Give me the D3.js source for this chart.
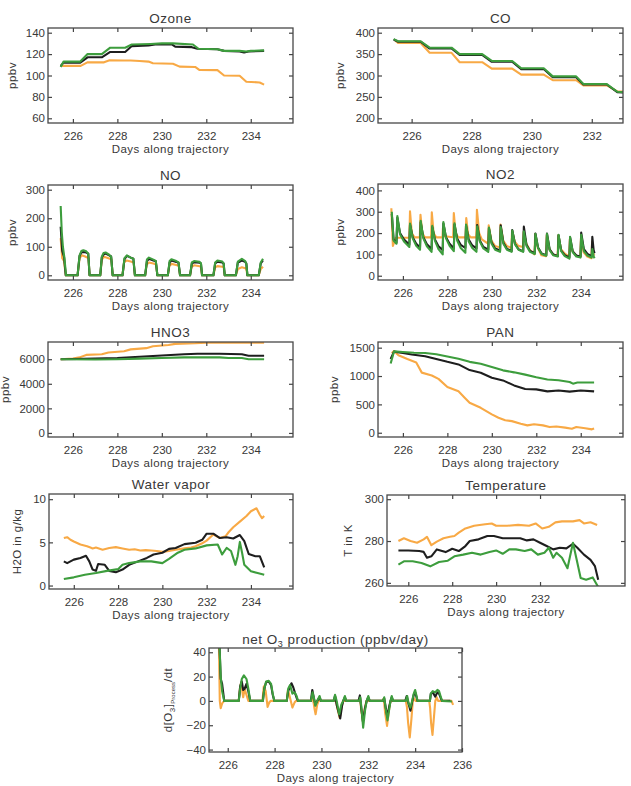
<!DOCTYPE html>
<html>
<head>
<meta charset="utf-8">
<script src="https://cdn.jsdelivr.net/npm/d3@7"></script>
<style>
  body { margin: 0; background: #fff; }
  svg { display: block; }
  text { font-family: "Liberation Sans", Arial, sans-serif; fill: #383838; }
  .tick text { font-size: 11.5px; }
  .title { font-size: 13.5px; letter-spacing: 0.5px; }
  .axlabel { font-size: 11.5px; letter-spacing: 0.45px; }
</style>
</head>
<body>
<svg id="chart" width="631" height="786"></svg>
<script>
// ---- data: [day, value] ----
const ozoneOrange = [[225.45,109],[226.35,109],[226.65,112.3],[227.4,112.3],[227.65,114.2],[228.3,114],[228.6,114],[229.0,113.5],[229.4,113],[229.6,111.4],[230.5,111],[230.8,108.3],[231.5,108],[231.7,105.1],[232.5,105],[232.8,100],[233.5,99.8],[233.8,94.2],[234.4,93.5],[234.6,91.5]];
const ozoneBlack = [[225.45,109],[225.58,112],[226.33,112],[226.66,117],[227.3,117],[227.68,122],[228.35,122],[228.65,127.5],[229.4,128],[229.7,129],[230.45,129],[230.6,127],[231.35,126.5],[231.6,125],[232.5,124.5],[232.8,123],[233.5,122.5],[233.7,121.5],[233.9,122.5],[234.6,123]];
const ozoneGreen = [[225.45,108],[225.58,113],[226.33,113],[226.66,120],[227.3,120],[227.68,126],[228.35,126],[228.65,129],[229.5,129.5],[230.0,130],[230.5,130],[231.4,129],[231.65,125],[232.5,124.5],[232.8,123],[233.5,123],[233.8,122.5],[234.0,123],[234.6,123.5]];

const coOrange = [[225.45,382],[225.55,376],[226.3,376],[226.6,353],[227.33,353],[227.6,331],[228.35,331],[228.67,316],[229.35,316],[229.65,302],[230.4,302],[230.7,289],[231.48,289],[231.72,277],[232.5,277],[232.85,263],[233.1,262]];
const coBlack = [[225.4,384],[225.55,379],[226.3,379],[226.6,363],[227.33,363],[227.6,348],[228.35,348],[228.67,332],[229.35,332],[229.65,315],[230.4,315],[230.7,296],[231.48,296],[231.72,279],[232.5,279],[232.85,261],[233.1,260]];
const coGreen = [[225.4,385],[225.55,380],[226.3,380],[226.6,365],[227.33,365],[227.6,350],[228.35,350],[228.67,334],[229.35,334],[229.65,317],[230.4,317],[230.7,298],[231.48,298],[231.72,280],[232.5,280],[232.85,262],[233.1,261]];

const noOrange = [[225.45,130],[225.52,60],[225.6,50],[225.68,0],[226.21,0],[226.3,60],[226.4,70],[226.55,66],[226.7,60],[226.75,0],[227.23,0],[227.3,55],[227.4,65],[227.6,60],[227.73,56],[227.79,0],[228.23,0],[228.3,45],[228.42,52],[228.6,48],[228.73,45],[228.79,0],[229.25,0],[229.32,38],[229.42,45],[229.62,41],[229.74,38],[229.8,0],[230.27,0],[230.34,33],[230.44,40],[230.65,36],[230.76,33],[230.82,0],[231.27,0],[231.34,30],[231.45,35],[231.7,32],[231.76,30],[231.81,0],[232.32,0],[232.4,28],[232.5,32],[232.72,30],[232.78,28],[232.83,0],[233.33,0],[233.42,22],[233.6,28],[233.75,25],[233.8,22],[233.85,0],[234.36,0],[234.45,22],[234.55,30]];
const noBlack = [[225.45,170],[225.52,85],[225.6,65],[225.68,0],[226.21,0],[226.3,68],[226.38,80],[226.47,82],[226.6,80],[226.69,76],[226.75,0],[227.23,0],[227.3,62],[227.38,73],[227.47,76],[227.63,70],[227.72,66],[227.79,0],[228.23,0],[228.32,57],[228.43,68],[228.6,62],[228.72,58],[228.79,0],[229.25,0],[229.33,50],[229.42,58],[229.62,52],[229.73,49],[229.8,0],[230.27,0],[230.35,45],[230.43,52],[230.65,47],[230.75,44],[230.82,0],[231.27,0],[231.35,41],[231.45,46],[231.7,44],[231.76,41],[231.81,0],[232.32,0],[232.4,42],[232.5,48],[232.72,45],[232.78,41],[232.83,0],[233.33,0],[233.42,45],[233.6,52],[233.75,47],[233.8,42],[233.85,0],[234.36,0],[234.45,42],[234.55,52]];
const noGreen = [[225.45,243],[225.5,150],[225.55,100],[225.62,60],[225.69,0],[226.21,0],[226.3,70],[226.38,85],[226.47,88],[226.6,84],[226.69,76],[226.75,0],[227.23,0],[227.3,65],[227.38,78],[227.47,80],[227.63,72],[227.72,65],[227.79,0],[228.23,0],[228.32,60],[228.43,70],[228.6,62],[228.72,58],[228.79,0],[229.25,0],[229.33,55],[229.42,62],[229.62,55],[229.73,50],[229.8,0],[230.27,0],[230.35,50],[230.43,56],[230.65,50],[230.75,45],[230.82,0],[231.27,0],[231.35,45],[231.45,50],[231.7,47],[231.76,42],[231.81,0],[232.32,0],[232.4,45],[232.5,52],[232.72,48],[232.78,42],[232.83,0],[233.33,0],[233.42,48],[233.6,58],[233.75,50],[233.8,40],[233.85,0],[234.36,0],[234.45,45],[234.55,58]];

const no2Orange = [[225.48,316],[225.55,140],[225.68,178],[226.29,178],[226.32,302],[226.4,200],[226.52,180],[226.76,180],[226.79,286],[226.87,200],[226.99,180],[227.27,180],[227.3,297],[227.38,200],[227.5,180],[227.78,180],[227.8,222],[227.88,185],[228.26,180],[228.29,294],[228.37,200],[228.49,180],[228.82,180],[228.85,270],[228.93,195],[229.05,180],[229.3,180],[229.33,309],[229.43,200],[229.55,170],[229.83,150],[229.86,236],[229.98,165],[230.14,140],[230.36,132],[230.39,240],[230.51,165],[230.67,140],[230.88,130],[230.91,210],[231.03,160],[231.19,140],[231.4,135],[231.43,205],[231.55,150],[231.71,120],[231.92,100],[231.95,195],[232.07,130],[232.23,96],[232.44,92],[232.47,190],[232.59,125],[232.75,100],[232.96,95],[232.99,190],[233.11,125],[233.27,105],[233.48,90],[233.51,172],[233.63,115],[233.79,95],[233.98,88],[234.01,178],[234.13,110],[234.29,90],[234.48,82],[234.51,160],[234.57,100],[234.62,95]];
const no2Black = [[225.5,290],[225.58,170],[225.71,155],[225.75,272],[225.87,200],[226.05,170],[226.29,145],[226.32,240],[226.44,180],[226.6,150],[226.77,132],[226.8,250],[226.92,180],[227.08,148],[227.29,125],[227.32,228],[227.44,170],[227.6,138],[227.79,120],[227.82,245],[227.94,180],[228.1,150],[228.29,128],[228.32,240],[228.44,175],[228.6,145],[228.81,130],[228.84,236],[228.96,170],[229.12,142],[229.31,128],[229.34,238],[229.46,165],[229.62,135],[229.84,122],[229.87,222],[229.99,155],[230.15,128],[230.37,118],[230.4,236],[230.52,155],[230.68,126],[230.89,116],[230.92,214],[231.04,150],[231.2,124],[231.41,114],[231.44,230],[231.56,145],[231.72,116],[231.93,106],[231.96,198],[232.08,132],[232.24,104],[232.45,96],[232.48,198],[232.6,124],[232.76,100],[232.97,92],[233.0,190],[233.12,118],[233.28,96],[233.49,86],[233.52,180],[233.64,114],[233.8,95],[233.99,90],[234.02,202],[234.14,125],[234.3,102],[234.49,92],[234.52,182],[234.58,120],[234.62,105]];
const no2Green = [[225.5,300],[225.58,165],[225.71,150],[225.75,280],[225.87,195],[226.05,160],[226.29,135],[226.32,245],[226.44,175],[226.6,140],[226.77,122],[226.8,258],[226.92,175],[227.08,138],[227.29,112],[227.32,234],[227.44,165],[227.6,125],[227.79,100],[227.82,252],[227.94,175],[228.1,140],[228.29,115],[228.32,246],[228.44,165],[228.6,130],[228.81,108],[228.84,240],[228.96,160],[229.12,130],[229.31,112],[229.34,232],[229.46,160],[229.62,128],[229.84,112],[229.87,226],[229.99,150],[230.15,122],[230.37,112],[230.4,228],[230.52,150],[230.68,122],[230.89,112],[230.92,212],[231.04,148],[231.2,122],[231.41,112],[231.44,208],[231.56,140],[231.72,112],[231.93,102],[231.96,196],[232.08,130],[232.24,102],[232.45,94],[232.48,196],[232.6,120],[232.76,96],[232.97,90],[233.0,192],[233.12,115],[233.28,92],[233.49,80],[233.52,182],[233.64,110],[233.8,90],[233.99,85],[234.02,192],[234.14,115],[234.3,95],[234.49,85],[234.52,125],[234.58,90],[234.62,82]];

const hno3Orange = [[225.45,6000],[226.0,6050],[226.3,6150],[226.6,6350],[227.3,6400],[227.6,6550],[228.3,6650],[228.6,6800],[229.3,6900],[229.6,7050],[230.3,7150],[230.6,7250],[231.5,7300],[232.0,7350],[234.6,7350]];
const hno3Black = [[225.45,6000],[227.0,6050],[228.0,6100],[229.0,6200],[230.0,6300],[231.0,6400],[231.6,6450],[232.6,6450],[233.6,6400],[233.9,6280],[234.6,6280]];
const hno3Green = [[225.45,6000],[227.0,5980],[228.0,6000],[229.0,6050],[230.0,6100],[231.0,6150],[232.6,6150],[233.0,6100],[233.6,6100],[233.9,6000],[234.6,6000]];

const panOrange = [[225.5,1400],[225.6,1440],[225.8,1365],[226.2,1300],[226.6,1240],[226.85,1060],[227.3,1010],[227.6,950],[228.0,805],[228.5,730],[228.8,610],[229.0,530],[229.5,440],[230.0,325],[230.3,265],[230.6,220],[230.9,205],[231.3,160],[231.6,130],[231.9,150],[232.3,130],[232.6,100],[232.9,110],[233.3,90],[233.6,70],[233.8,100],[234.2,80],[234.5,60],[234.6,75]];
const panBlack = [[225.45,1300],[225.6,1430],[226.0,1405],[226.4,1380],[227.0,1350],[227.5,1300],[228.0,1250],[228.5,1205],[229.0,1105],[229.5,1058],[230.0,970],[230.5,923],[231.0,835],[231.5,770],[232.0,765],[232.5,730],[233.0,745],[233.5,725],[234.0,745],[234.6,730]];
const panGreen = [[225.45,1220],[225.6,1435],[226.0,1425],[226.5,1410],[227.0,1405],[227.5,1385],[228.0,1345],[228.5,1305],[229.0,1250],[229.5,1215],[230.0,1160],[230.5,1100],[231.0,1065],[231.5,1025],[232.0,980],[232.5,940],[233.0,925],[233.5,895],[233.65,865],[233.85,885],[234.6,885]];

const wvOrange = [[225.55,5.5],[225.7,5.6],[225.85,5.3],[226.0,5.1],[226.3,4.75],[226.6,4.55],[226.75,4.4],[226.85,4.3],[227.0,4.4],[227.3,4.15],[227.6,4.35],[227.9,4.45],[228.2,4.3],[228.5,4.15],[228.75,4.2],[229.0,4.05],[229.25,4.1],[229.5,4.05],[229.75,4.0],[230.0,3.9],[230.3,4.0],[230.6,4.15],[231.0,4.3],[231.3,4.4],[231.5,4.55],[231.8,4.9],[232.0,5.2],[232.3,5.9],[232.6,5.5],[232.85,5.7],[233.0,6.2],[233.2,6.75],[233.5,7.4],[233.8,8.05],[234.0,8.6],[234.25,8.95],[234.4,8.2],[234.5,7.8],[234.6,8.05]];
const wvBlack = [[225.55,2.8],[225.7,2.6],[226.0,3.0],[226.3,3.2],[226.55,3.45],[226.7,2.8],[226.85,1.85],[227.0,1.7],[227.1,2.5],[227.4,2.4],[227.6,1.7],[227.9,1.55],[228.2,1.85],[228.5,2.4],[228.9,2.8],[229.3,3.2],[229.6,3.6],[230.0,3.8],[230.3,4.25],[230.6,4.35],[231.0,4.8],[231.5,4.95],[231.8,5.3],[232.0,6.0],[232.3,6.0],[232.6,5.5],[232.9,5.6],[233.2,5.45],[233.5,5.85],[233.7,5.15],[233.9,3.65],[234.2,3.4],[234.4,3.4],[234.6,2.1]];
const wvGreen = [[225.55,0.75],[226.0,0.95],[226.5,1.25],[227.0,1.45],[227.5,1.7],[228.0,1.9],[228.2,2.4],[228.5,2.6],[229.0,2.8],[229.5,2.8],[230.0,2.6],[230.3,3.1],[230.7,3.8],[231.0,4.15],[231.5,4.3],[232.0,4.65],[232.5,4.75],[232.7,3.6],[232.9,4.35],[233.1,4.0],[233.3,2.4],[233.4,3.4],[233.5,5.05],[233.6,3.8],[233.7,2.4],[234.0,1.65],[234.3,1.45],[234.6,1.25]];

const tOrange = [[225.55,280],[225.8,281.3],[226.1,280],[226.4,279.2],[226.7,280.8],[226.85,282],[227.05,278],[227.3,279.7],[227.6,281.3],[227.9,282],[228.1,282.4],[228.3,284],[228.6,286],[229.0,287.3],[229.5,288],[229.8,288.4],[230.0,287.3],[230.5,287.3],[231.0,287.7],[231.5,287.3],[231.8,288.4],[232.1,286],[232.4,286.8],[232.7,288.9],[233.0,289.4],[233.5,289.4],[233.8,290],[234.0,288.4],[234.3,289],[234.6,287.7]];
const tBlack = [[225.55,275.5],[226.0,275.5],[226.5,275.2],[226.7,274.8],[226.85,272],[227.05,272.7],[227.3,276],[227.7,274.7],[228.0,276.3],[228.3,275.2],[228.6,277.6],[228.8,280],[229.2,280.8],[229.6,282.4],[229.9,282.4],[230.3,281.3],[230.7,281.3],[231.1,281.3],[231.4,280.3],[231.7,280.8],[232.0,279.2],[232.3,277.6],[232.6,276],[232.9,276.8],[233.2,276.5],[233.5,278.7],[233.7,276.8],[234.0,273.5],[234.3,271],[234.5,268],[234.65,261.5]];
const tGreen = [[225.55,268.7],[225.8,270.3],[226.2,270.3],[226.6,269.5],[227.0,267.9],[227.4,270],[227.8,270.6],[228.1,272.7],[228.5,273.5],[228.9,274.4],[229.3,273.5],[229.7,274.8],[230.0,275.5],[230.3,273.9],[230.6,276],[230.9,276],[231.3,275.2],[231.6,276],[231.9,273.5],[232.2,274.4],[232.4,276.8],[232.6,272],[232.75,274.4],[233.0,272],[233.25,267],[233.5,279.2],[233.65,272],[233.85,262.3],[234.1,261.5],[234.4,262.6],[234.65,258]];

const prodOrange = [[225.62,50],[225.66,0],[225.7,-6],[225.76,-2],[225.85,0],[226.47,0],[226.52,10],[226.57,15],[226.66,3],[226.72,10],[226.8,5],[226.88,0],[227.48,0],[227.54,12],[227.62,8],[227.7,-5],[227.78,-1],[227.84,0],[228.52,0],[228.57,9],[228.64,4],[228.76,-5.5],[228.86,-1],[228.92,0],[229.56,0],[229.62,4],[229.7,-6],[229.75,-11],[229.82,-3],[229.88,0],[230.55,0],[230.6,2],[230.68,-6],[230.78,-14],[230.86,-5],[230.92,0],[231.6,0],[231.65,2],[231.7,-8],[231.77,-16.5],[231.85,-6],[231.92,0],[232.6,0],[232.66,2],[232.72,-10],[232.8,-20.5],[232.88,-8],[232.95,0],[233.6,0],[233.65,-5],[233.7,-18],[233.77,-30],[233.84,-15],[233.9,0],[233.96,2],[234.02,0],[234.6,0],[234.64,-6],[234.68,-18],[234.74,-28],[234.8,-14],[234.86,0],[234.92,3],[234.98,0],[235.55,0],[235.62,-3.3]];
const prodBlack = [[225.62,60],[225.7,18],[225.76,14],[225.85,0],[226.47,0],[226.53,12],[226.6,16],[226.66,9],[226.72,10],[226.8,14],[226.88,8],[226.96,0],[227.5,0],[227.56,10],[227.64,15.5],[227.75,16],[227.85,13],[227.92,5],[227.99,0],[228.52,0],[228.58,8],[228.66,12],[228.72,14.5],[228.8,11],[228.88,6],[228.95,2],[229.0,0],[229.55,0],[229.61,9],[229.67,3],[229.74,-3],[229.82,0],[229.92,3],[229.98,0],[230.52,0],[230.58,4],[230.66,-4],[230.8,-14.5],[230.88,-4],[230.93,0],[231.0,3],[231.06,0],[231.58,0],[231.64,4.5],[231.7,-6],[231.77,-17],[231.86,-6],[231.93,0],[232.0,3],[232.06,0],[232.62,0],[232.68,2],[232.74,-5],[232.81,-13],[232.9,-4],[232.95,0],[233.0,3],[233.06,0],[233.58,0],[233.64,4],[233.7,-1],[233.8,-8],[233.87,-1],[233.94,5],[234.0,7],[234.06,3],[234.1,0],[234.63,0],[234.67,6],[234.75,7],[234.86,3.5],[234.95,7],[235.02,6],[235.1,2],[235.15,0],[235.5,0]];
const prodGreen = [[225.62,60],[225.7,20],[225.76,8],[225.85,0],[226.47,0],[226.53,10],[226.6,18],[226.69,21],[226.8,18],[226.88,10],[226.96,0],[227.5,0],[227.56,10],[227.64,16],[227.75,16.5],[227.85,14],[227.92,6],[227.99,0],[228.52,0],[228.58,10],[228.66,13],[228.76,6],[228.86,7],[228.94,4],[229.0,0],[229.55,0],[229.62,7],[229.68,2],[229.74,-4],[229.82,0],[229.92,4],[229.98,0],[230.52,0],[230.58,5],[230.65,0],[230.76,-11],[230.85,-3],[230.93,0],[231.0,4],[231.06,0],[231.6,0],[231.66,3],[231.72,-8],[231.78,-22],[231.86,-8],[231.93,0],[232.0,4],[232.06,0],[232.62,0],[232.68,3],[232.74,-6],[232.82,-16],[232.9,-6],[232.95,0],[233.0,4],[233.06,0],[233.6,0],[233.66,4],[233.72,-2],[233.8,-5.5],[233.87,0],[233.94,6],[234.0,9],[234.06,4],[234.1,0],[234.63,0],[234.67,6],[234.75,8],[234.85,7],[234.95,9],[235.02,8],[235.1,3],[235.15,0],[235.57,-0.5]];

const daysTicks = [226, 228, 230, 232, 234];
const daysTicksCO = [226, 228, 230, 232];
const daysTicksProd = [226, 228, 230, 232, 234, 236];

const ORANGE = "#f8a945", BLACK = "#1e1e1e", GREEN = "#3d9d3d";

const svg = d3.select("#chart");

function drawPanel(p) {
    const x = d3.scaleLinear().domain(p.xDomain).range([p.left, p.right]);
    const y = d3.scaleLinear().domain(p.yDomain).range([p.bottom, p.top]);
    const g = svg.append("g");

    svg.append("clipPath").attr("id", "clip-" + p.id)
        .append("rect")
        .attr("x", p.left).attr("y", p.top)
        .attr("width", p.right - p.left).attr("height", p.bottom - p.top);

    const line = d3.line().x(d => x(d[0])).y(d => y(d[1]));

    g.append("g")
        .attr("clip-path", `url(#clip-${p.id})`)
        .selectAll("path")
        .data(p.series)
        .join("path")
        .attr("d", s => line(s.values))
        .attr("fill", "none")
        .attr("stroke", s => s.color)
        .attr("stroke-width", 2.1)
        .attr("stroke-linejoin", "round");

    const axes = [
        g.append("g").attr("transform", `translate(0,${p.bottom})`)
            .call(d3.axisBottom(x).tickValues(p.xTicks).tickFormat(d3.format("d")).tickSizeInner(-4).tickSizeOuter(0).tickPadding(9)),
        g.append("g").attr("transform", `translate(0,${p.top})`)
            .call(d3.axisTop(x).tickValues(p.xTicks).tickFormat("").tickSizeInner(-4).tickSizeOuter(0)),
        g.append("g").attr("transform", `translate(${p.left},0)`)
            .call(d3.axisLeft(y).tickValues(p.yTicks).tickFormat(d3.format("d")).tickSizeInner(-4).tickSizeOuter(0).tickPadding(3)),
        g.append("g").attr("transform", `translate(${p.right},0)`)
            .call(d3.axisRight(y).tickValues(p.yTicks).tickFormat("").tickSizeInner(-4).tickSizeOuter(0))
    ];
    axes.forEach(a => {
        a.select(".domain").remove();
        a.selectAll(".tick line").attr("stroke", "#444").attr("stroke-width", 1.2);
    });

    g.append("rect")
        .attr("x", p.left).attr("y", p.top)
        .attr("width", p.right - p.left).attr("height", p.bottom - p.top)
        .attr("fill", "none").attr("stroke", "#484848").attr("stroke-width", 1.3);

    const title = g.append("text")
        .attr("class", "title")
        .attr("x", (p.left + p.right) / 2)
        .attr("y", p.top - p.titleGap)
        .attr("text-anchor", "middle");
    p.title(title);

    g.append("text")
        .attr("class", "axlabel")
        .attr("x", (p.left + p.right) / 2)
        .attr("y", p.bottom + 29.5)
        .attr("text-anchor", "middle")
        .text("Days along trajectory");

    const yl = g.append("text")
        .attr("class", "axlabel")
        .attr("transform", `translate(${p.left - p.ylabelGap},${(p.top + p.bottom) / 2}) rotate(-90)`)
        .attr("text-anchor", "middle");
    p.ylabel(yl);
}

const plain = s => t => t.text(s);

drawPanel({id: "ozone", left: 48, right: 293, top: 28, bottom: 123,
    xDomain: [224.88, 235.9], yDomain: [55.6, 144.4], xTicks: daysTicks, yTicks: [60, 80, 100, 120, 140],
    title: plain("Ozone"), titleGap: 5, ylabel: plain("ppbv"), ylabelGap: 32.5,
    series: [{values: ozoneOrange, color: ORANGE}, {values: ozoneBlack, color: BLACK}, {values: ozoneGreen, color: GREEN}]});

drawPanel({id: "co", left: 378, right: 623, top: 28, bottom: 123,
    xDomain: [224.88, 233.04], yDomain: [189, 411], xTicks: daysTicksCO, yTicks: [200, 250, 300, 350, 400],
    title: plain("CO"), titleGap: 5, ylabel: plain("ppbv"), ylabelGap: 34.5,
    series: [{values: coOrange, color: ORANGE}, {values: coBlack, color: BLACK}, {values: coGreen, color: GREEN}]});

drawPanel({id: "no", left: 48, right: 293, top: 185, bottom: 280,
    xDomain: [224.88, 235.9], yDomain: [-16.5, 316.5], xTicks: daysTicks, yTicks: [0, 100, 200, 300],
    title: plain("NO"), titleGap: 5, ylabel: plain("ppbv"), ylabelGap: 32.5,
    series: [{values: noOrange, color: ORANGE}, {values: noBlack, color: BLACK}, {values: noGreen, color: GREEN}]});

drawPanel({id: "no2", left: 378, right: 623, top: 184, bottom: 280,
    xDomain: [224.88, 235.9], yDomain: [-20, 430], xTicks: daysTicks, yTicks: [0, 100, 200, 300, 400],
    title: plain("NO2"), titleGap: 5, ylabel: plain("ppbv"), ylabelGap: 34.5,
    series: [{values: no2Orange, color: ORANGE}, {values: no2Black, color: BLACK}, {values: no2Green, color: GREEN}]});

drawPanel({id: "hno3", left: 48, right: 293, top: 342, bottom: 437,
    xDomain: [224.88, 235.9], yDomain: [-330, 7400], xTicks: daysTicks, yTicks: [0, 2000, 4000, 6000],
    title: plain("HNO3"), titleGap: 5, ylabel: plain("ppbv"), ylabelGap: 39,
    series: [{values: hno3Orange, color: ORANGE}, {values: hno3Black, color: BLACK}, {values: hno3Green, color: GREEN}]});

drawPanel({id: "pan", left: 378, right: 623, top: 342, bottom: 437,
    xDomain: [224.88, 235.9], yDomain: [-75, 1600], xTicks: daysTicks, yTicks: [0, 500, 1000, 1500],
    title: plain("PAN"), titleGap: 5, ylabel: plain("ppbv"), ylabelGap: 40,
    series: [{values: panOrange, color: ORANGE}, {values: panBlack, color: BLACK}, {values: panGreen, color: GREEN}]});

drawPanel({id: "wv", left: 49, right: 293, top: 494, bottom: 589,
    xDomain: [224.88, 235.9], yDomain: [-0.4, 10.6], xTicks: daysTicks, yTicks: [0, 5, 10],
    title: plain("Water vapor"), titleGap: 5, ylabel: plain("H2O in g/kg"), ylabelGap: 28.5,
    series: [{values: wvOrange, color: ORANGE}, {values: wvBlack, color: BLACK}, {values: wvGreen, color: GREEN}]});

drawPanel({id: "temp", left: 387, right: 625, top: 495, bottom: 586,
    xDomain: [225.03, 235.87], yDomain: [258.5, 302], xTicks: daysTicksCO, yTicks: [260, 280, 300],
    title: plain("Temperature"), titleGap: 5, ylabel: plain("T in K"), ylabelGap: 35,
    series: [{values: tOrange, color: ORANGE}, {values: tBlack, color: BLACK}, {values: tGreen, color: GREEN}]});

drawPanel({id: "prod", left: 209, right: 462, top: 648, bottom: 752,
    xDomain: [225.2, 236.0], yDomain: [-42, 43.5], xTicks: daysTicksProd, yTicks: [-40, -20, 0, 20, 40],
    title: t => {
        t.append("tspan").text("net O");
        t.append("tspan").attr("dy", 3).attr("font-size", "9px").text("3");
        t.append("tspan").attr("dy", -3).text(" production (ppbv/day)");
    }, titleGap: 4,
    ylabel: t => {
        t.append("tspan").text("d[O");
        t.append("tspan").attr("dy", 3).attr("font-size", "8px").text("3");
        t.append("tspan").attr("dy", -3).text("]");
        t.append("tspan").attr("dy", 3).attr("font-size", "6px").attr("letter-spacing", "0px").text("Process");
        t.append("tspan").attr("dy", -3).text("/dt");
    }, ylabelGap: 37,
    series: [{values: prodOrange, color: ORANGE}, {values: prodBlack, color: BLACK}, {values: prodGreen, color: GREEN}]});
</script>
</body>
</html>
